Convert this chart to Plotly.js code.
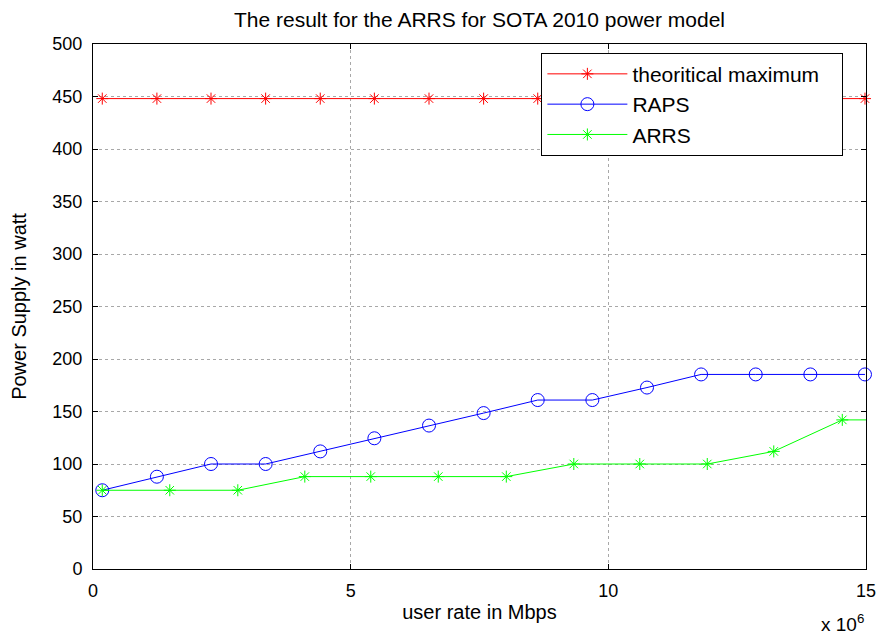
<!DOCTYPE html>
<html>
<head>
<meta charset="utf-8">
<script src="https://cdn.plot.ly/plotly-3.0.1.min.js"></script>
<style>html,body{margin:0;padding:0;background:#fff;}#chart{width:877px;height:635px;}</style>
</head>
<body>
<div id="chart"></div>
<script>
// Data (x in bps, y in watt)
const seriesNames = ['theoritical maximum', 'RAPS', 'ARRS'];
const xMax = [0.18e6, 1.24e6, 2.29e6, 3.35e6, 4.41e6, 5.46e6, 6.52e6, 7.58e6, 8.63e6, 9.69e6, 10.75e6, 11.80e6, 12.86e6, 13.92e6, 14.98e6];
const yMax = [448, 448, 448, 448, 448, 448, 448, 448, 448, 448, 448, 448, 448, 448, 448];
const xRaps = [0.18e6, 1.24e6, 2.29e6, 3.35e6, 4.41e6, 5.46e6, 6.52e6, 7.58e6, 8.63e6, 9.69e6, 10.75e6, 11.80e6, 12.86e6, 13.92e6, 14.98e6];
const yRaps = [75, 87.9, 100, 100, 112, 124.5, 136.6, 148.5, 160.9, 160.9, 172.8, 185.3, 185.3, 185.3, 185.3];
const xArrs = [0.18e6, 1.49e6, 2.81e6, 4.11e6, 5.39e6, 6.70e6, 8.02e6, 9.33e6, 10.61e6, 11.92e6, 13.21e6, 14.54e6, 15.85e6];
const yArrs = [75, 75, 75, 88, 88, 88, 88, 100, 100, 100, 112, 142, 142];
const xTickVals = [0, 5e6, 10e6, 15e6];
const xTickText = ['0', '5', '10', '15'];
const yTickVals = [0, 50, 100, 150, 200, 250, 300, 350, 400, 450, 500];

const FONT = 'Liberation Sans, Arial, Helvetica, sans-serif';

const traces = [
  {x: xMax, y: yMax, name: seriesNames[0] + '\u00a0\u00a0\u00a0', type: 'scatter', mode: 'lines+markers', cliponaxis: false,
   line: {color: '#ff0000', width: 1}, marker: {symbol: 'asterisk-open', size: 10, color: '#ff0000', line: {color: '#ff0000', width: 1}}},
  {x: xRaps, y: yRaps, name: seriesNames[1], type: 'scatter', mode: 'lines+markers', cliponaxis: false,
   line: {color: '#0000ff', width: 1}, marker: {symbol: 'circle-open', size: 13, color: '#0000ff', line: {color: '#0000ff', width: 1}}},
  {x: xArrs, y: yArrs, name: seriesNames[2], type: 'scatter', mode: 'lines+markers', cliponaxis: true,
   line: {color: '#00ff00', width: 1}, marker: {symbol: 'asterisk-open', size: 10, color: '#00ff00', line: {color: '#00ff00', width: 1}}}
];

const axisCommon = {
  showline: true, linecolor: '#000', linewidth: 1, mirror: 'ticks',
  ticks: 'inside', ticklen: 5, tickcolor: '#000', tickwidth: 1,
  showgrid: true, gridcolor: '#a8a8a8', griddash: 'dot', gridwidth: 1,
  zeroline: false, tickfont: {family: FONT, size: 18, color: '#000'}
};

const layout = {
  width: 877, height: 635,
  margin: {l: 92.5, r: 11.3, t: 44, b: 66.3},
  paper_bgcolor: '#fff', plot_bgcolor: '#fff',
  font: {family: FONT, color: '#000'},
  title: {text: 'The result for the ARRS for SOTA 2010 power model', font: {family: FONT, size: 21, color: '#000'},
          x: 0.5, xref: 'paper', xanchor: 'center', y: 1 - 20/635, yref: 'container', yanchor: 'middle'},
  xaxis: Object.assign({}, axisCommon, {
    range: [0, 15e6], tickmode: 'array', tickvals: xTickVals, ticktext: xTickText, ticklabelstandoff: 5,
    title: {text: 'user rate in Mbps', font: {family: FONT, size: 20, color: '#000'}, standoff: 5}
  }),
  yaxis: Object.assign({}, axisCommon, {
    range: [0, 500], tickmode: 'array', tickvals: yTickVals, ticklabelstandoff: 6,
    title: {text: 'Power Supply in watt', font: {family: FONT, size: 20, color: '#000'}, standoff: 20}
  }),
  showlegend: true,
  legend: {x: (541 - 92.5) / 773.2, y: (568.7 - 52.7) / 524.7, xanchor: 'left', yanchor: 'top',
           bgcolor: '#fff', bordercolor: '#000', borderwidth: 1, itemwidth: 80,
           font: {family: FONT, size: 21, color: '#000'}, tracegroupgap: 0},
  annotations: [{text: 'x 10<sup>6</sup>', xref: 'paper', yref: 'paper', x: 1, y: -0.102, xanchor: 'right', yanchor: 'middle',
                 showarrow: false, font: {family: FONT, size: 19, color: '#000'}}]
};

Plotly.newPlot('chart', traces, layout, {displayModeBar: false, staticPlot: true});
</script>
</body>
</html>
